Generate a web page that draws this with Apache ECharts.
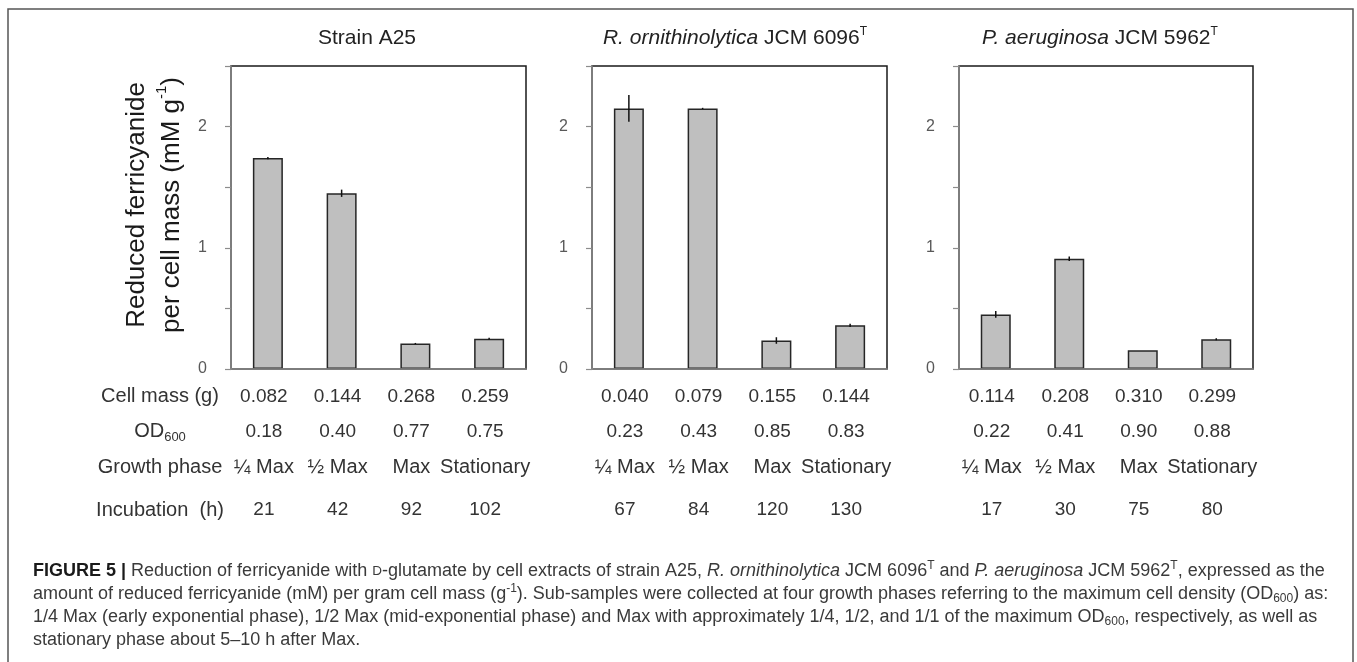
<!DOCTYPE html>
<html><head><meta charset="utf-8">
<script src="https://cdn.jsdelivr.net/npm/echarts@6/dist/echarts.min.js"></script>
<style>html,body{margin:0;padding:0;background:#fff}#c{width:1357px;height:662px}</style>
</head><body><div id="c"></div>
<script>
// ---- data ----
const panelTitles = [
  'Strain A25',
  '{i|R. ornithinolytica} JCM 6096{sup|T}',
  '{i|P. aeruginosa} JCM 5962{sup|T}'
];
const categories = ['¼ Max', '½ Max', 'Max', 'Stationary'];
const reducedA25 = [1.74, 1.45, 0.21, 0.25];
const errorA25 = [0.01, 0.03, 0.005, 0.008];
const reducedROrn = [2.15, 2.15, 0.235, 0.36];
const errorROrn = [0.11, 0.005, 0.027, 0.014];
const reducedPAer = [0.45, 0.91, 0.155, 0.245];
const errorPAer = [0.028, 0.018, 0, 0.008];
const cellMassA25 = ['0.082', '0.144', '0.268', '0.259'];
const cellMassROrn = ['0.040', '0.079', '0.155', '0.144'];
const cellMassPAer = ['0.114', '0.208', '0.310', '0.299'];
const od600A25 = ['0.18', '0.40', '0.77', '0.75'];
const od600ROrn = ['0.23', '0.43', '0.85', '0.83'];
const od600PAer = ['0.22', '0.41', '0.90', '0.88'];
const incubationA25 = ['21', '42', '92', '102'];
const incubationROrn = ['67', '84', '120', '130'];
const incubationPAer = ['17', '30', '75', '80'];
const yTickLabels = [0, 1, 2];
const rowLabels = ['Cell mass (g)', 'OD{sub|600}', 'Growth phase', 'Incubation  (h)'];
const yAxisTitle = 'Reduced ferricyanide\nper cell mass (mM g{sup|-1})';
const captionLines = [
  '{b|FIGURE 5 |} Reduction of ferricyanide with {sc|D}-glutamate by cell extracts of strain A25, {i|R. ornithinolytica} JCM 6096{sup|T} and {i|P. aeruginosa} JCM 5962{sup|T}, expressed as the',
  'amount of reduced ferricyanide (mM) per gram cell mass (g{sup|-1}). Sub-samples were collected at four growth phases referring to the maximum cell density (OD{sub|600}) as:',
  '1/4 Max (early exponential phase), 1/2 Max (mid-exponential phase) and Max with approximately 1/4, 1/2, and 1/1 of the maximum OD{sub|600}, respectively, as well as',
  'stationary phase about 5–10 h after Max.'
];

const values = [reducedA25, reducedROrn, reducedPAer];
const errors = [errorA25, errorROrn, errorPAer];
const tableRows = [
  [cellMassA25, od600A25, categories, incubationA25],
  [cellMassROrn, od600ROrn, categories, incubationROrn],
  [cellMassPAer, od600PAer, categories, incubationPAer]
];

// ---- layout ----
const FONT = 'Liberation Sans, Arial, sans-serif';
const gridLefts = [231, 592, 959];
const gridWidths = [295, 295, 294];
const titleX = [367, 735, 1100];
const rowOffsets = [27.5, 62.5, 98.5, 141];
const rowSizes = [19, 19, 20, 19];
const rowLabelY = [396.7, 431.7, 467.7, 510];

const grids = [], xAxes = [], yAxes = [], series = [];
for (let g = 0; g < 3; g++) {
  grids.push({left: gridLefts[g], width: gridWidths[g], top: 66, bottom: 293,
    show: true, borderColor: '#1a1a1a', borderWidth: 1.5, backgroundColor: 'transparent'});
  xAxes.push({type: 'category', gridIndex: g, data: categories, position: 'bottom',
    axisLine: {lineStyle: {color: '#8c8c8c', width: 1.5}},
    axisTick: {length: 7, lineStyle: {color: '#8c8c8c', width: 1.2}},
    axisLabel: {show: false}, z: 5});
  for (let r = 0; r < 4; r++) {
    xAxes.push({type: 'category', gridIndex: g, data: tableRows[g][r], position: 'bottom',
      offset: rowOffsets[r], axisLine: {show: false}, axisTick: {show: false},
      axisLabel: {interval: 0, margin: 0, verticalAlign: 'middle', fontFamily: FONT,
        fontSize: rowSizes[r], color: '#333', padding: [0, 8, 0, 0]}});
  }
  yAxes.push({type: 'value', gridIndex: g, min: 0, max: 2.5, interval: 0.5,
    axisLine: {show: true, lineStyle: {color: '#8c8c8c', width: 1.5}},
    axisTick: {show: true, length: 6, lineStyle: {color: '#8c8c8c', width: 1.2}},
    splitLine: {show: false},
    axisLabel: {margin: 24, fontFamily: FONT, fontSize: 16, color: '#595959',
      formatter: v => yTickLabels.indexOf(v) >= 0 ? String(v) : ''}, z: 5});
  series.push({type: 'bar', xAxisIndex: g * 5, yAxisIndex: g, data: values[g], barWidth: 30,
    itemStyle: {color: '#bfbfbf', borderColor: '#262626', borderWidth: 1.5}, silent: true});
  series.push({type: 'custom', xAxisIndex: g * 5, yAxisIndex: g,
    data: values[g].map((v, i) => [i, v, errors[g][i]]),
    encode: {x: 0, y: 1},
    renderItem: (params, api) => {
      const i = api.value(0), v = api.value(1), e = api.value(2);
      if (!e) return null;
      const p1 = api.coord([i, v - e]), p2 = api.coord([i, v + e]);
      return {type: 'line', shape: {x1: p1[0], y1: p1[1], x2: p2[0], y2: p2[1]},
        style: {stroke: '#111', lineWidth: 1.5}};
    }, z: 4, silent: true});
}

const supRich = {
  i: {fontStyle: 'italic', fontFamily: FONT, fontSize: 21, color: '#222', lineHeight: 24},
  sup: {fontFamily: FONT, fontSize: 12, color: '#222', lineHeight: 12, verticalAlign: 'top'}
};
const graphics = [];
// outer frame
graphics.push({type: 'polyline', shape: {points: [[8, 720], [8, 9], [1353, 9], [1353, 720]]},
  style: {stroke: '#555', lineWidth: 1.5, fill: null}, silent: true});
// panel titles
for (let g = 0; g < 3; g++) {
  graphics.push({type: 'text', x: titleX[g], y: 38, silent: true,
    style: {text: panelTitles[g], align: 'center', verticalAlign: 'middle',
      font: '21px ' + FONT, fill: '#222', lineHeight: 24, rich: supRich}});
}
// y axis title
graphics.push({type: 'text', x: 154, y: 205, rotation: Math.PI / 2, silent: true,
  style: {text: yAxisTitle, align: 'center', verticalAlign: 'middle',
    font: '26px ' + FONT, fill: '#1a1a1a', lineHeight: 35,
    rich: {sup: {fontFamily: FONT, fontSize: 15, fill: '#1a1a1a', lineHeight: 15, verticalAlign: 'top'}}}});
// row labels
for (let r = 0; r < 4; r++) {
  graphics.push({type: 'text', x: 160, y: rowLabelY[r], silent: true,
    style: {text: rowLabels[r], align: 'center', verticalAlign: 'middle',
      font: '20px ' + FONT, fill: '#333', lineHeight: 24,
      rich: {sub: {fontFamily: FONT, fontSize: 13, fill: '#333', lineHeight: 12, verticalAlign: 'bottom'}}}});
}
// caption
const CAP = 'Liberation Sans, Arial, sans-serif';
const CS = 18;
const capRich = {
  b: {fontFamily: CAP, fontWeight: 'bold', fontSize: CS, fill: '#1a1a1a', lineHeight: 22},
  i: {fontFamily: CAP, fontStyle: 'italic', fontSize: CS, fill: '#3a3a3a', lineHeight: 22},
  sc: {fontFamily: CAP, fontSize: 13.5, fill: '#3a3a3a', lineHeight: 22},
  sup: {fontFamily: CAP, fontSize: 12, fill: '#3a3a3a', lineHeight: 11, verticalAlign: 'top'},
  sub: {fontFamily: CAP, fontSize: 12, fill: '#3a3a3a', lineHeight: 11, verticalAlign: 'bottom'}
};
const capY = [571, 594, 617, 640];
for (let l = 0; l < 4; l++) {
  graphics.push({type: 'text', x: 33, y: capY[l], silent: true,
    style: {text: captionLines[l], align: 'left', verticalAlign: 'middle',
      font: CS + 'px ' + CAP, fill: '#3a3a3a', lineHeight: 22, rich: capRich}});
}

const chart = echarts.init(document.getElementById('c'), null, {renderer: 'canvas'});
chart.setOption({
  animation: false,
  backgroundColor: '#fff',
  grid: grids, xAxis: xAxes, yAxis: yAxes, series: series,
  graphic: graphics
});
</script></body></html>
